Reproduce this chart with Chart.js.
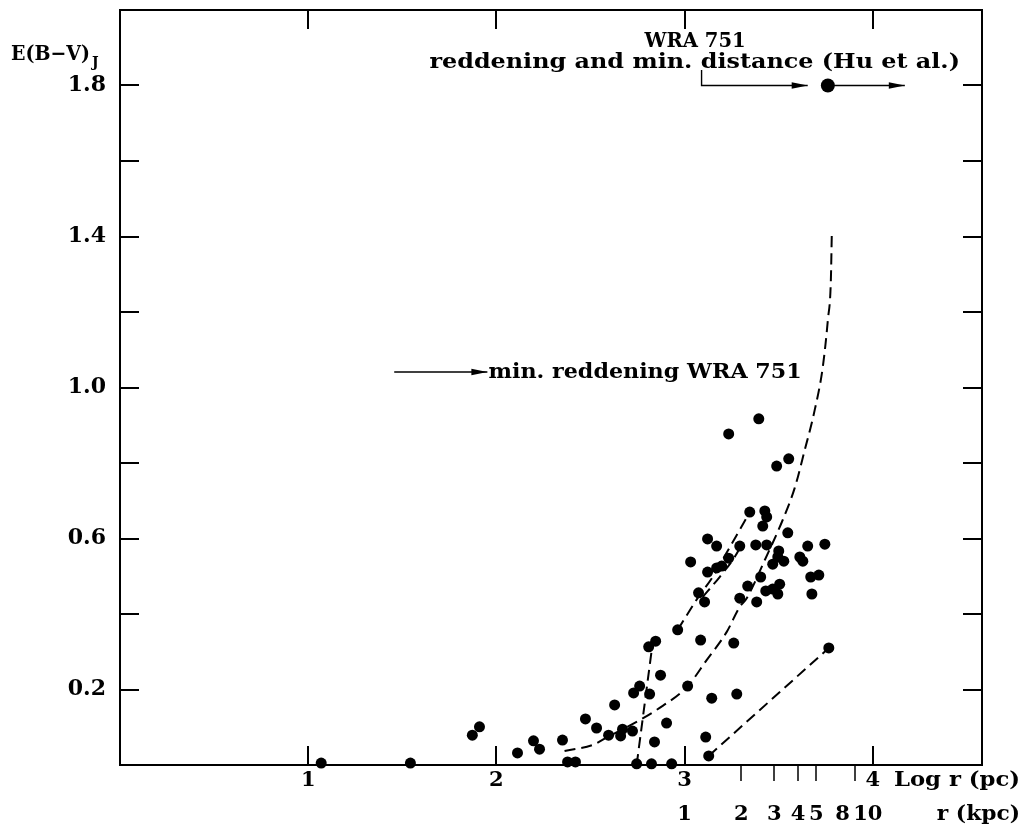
<!DOCTYPE html>
<html>
<head>
<meta charset="utf-8">
<title>E(B-V) vs log r</title>
<script src="https://cdn.jsdelivr.net/npm/chart.js@4.4.1/dist/chart.umd.min.js"></script>
<style>
  html, body { margin: 0; padding: 0; background: #fff; }
  #wrap { width: 1026px; height: 824px; }
</style>
</head>
<body>
<div id="wrap"><canvas id="chart" width="1026" height="824"></canvas></div>
<script>
/* ================= DATA ================= */
// field stars: log r (pc) and E(B-V)_J
const starLogR = [1.069, 1.543, 1.872, 1.910, 2.112, 2.197, 2.229, 2.351, 2.378, 2.420,
  2.473, 2.532, 2.596, 2.628, 2.660, 2.670, 2.723, 2.729, 2.761, 2.814,
  2.809, 2.846, 2.872, 2.904, 2.840, 2.745, 2.824, 2.931, 2.963, 3.016,
  3.074, 3.106, 3.085, 3.144, 3.112, 3.128, 3.261, 3.277, 3.293, 3.335,
  3.383, 3.404, 3.431, 3.468, 3.495, 3.505, 3.676, 3.766, 3.032, 3.122,
  3.170, 3.197, 3.234, 3.122, 3.170, 3.293, 3.346, 3.426, 3.436, 3.415,
  3.378, 3.436, 3.548, 3.500, 3.495, 3.527, 3.468, 3.654, 3.612, 3.628,
  3.745, 3.670, 3.713, 3.234, 3.394, 3.489, 3.553];
const starEbv = [0.005, 0.005, 0.079, 0.101, 0.032, 0.064, 0.042, 0.066, 0.008, 0.008,
  0.122, 0.098, 0.079, 0.159, 0.077, 0.095, 0.090, 0.191, 0.209, 0.188,
  0.313, 0.328, 0.238, 0.111, 0.061, 0.003, 0.003, 0.003, 0.358, 0.209,
  0.456, 0.432, 0.331, 0.177, 0.074, 0.024, 0.323, 0.188, 0.442, 0.474,
  0.432, 0.498, 0.461, 0.466, 0.453, 0.479, 0.453, 0.310, 0.538, 0.511,
  0.522, 0.527, 0.548, 0.599, 0.580, 0.580, 0.670, 0.673, 0.657, 0.633,
  0.583, 0.583, 0.615, 0.567, 0.551, 0.540, 0.532, 0.580, 0.551, 0.540,
  0.585, 0.498, 0.503, 0.877, 0.917, 0.792, 0.811];

// dashed reddening curves
const curveALogR = [2.362, 2.511, 2.590, 2.761, 2.851, 3.016, 3.117, 3.223, 3.293, 3.330,
  3.426, 3.521, 3.585, 3.638, 3.691, 3.734, 3.761, 3.777, 3.782];
const curveAEbv = [0.037, 0.053, 0.074, 0.119, 0.146, 0.209, 0.278, 0.352, 0.419, 0.442,
  0.543, 0.649, 0.734, 0.834, 0.940, 1.054, 1.179, 1.285, 1.409];
const curveBLogR = [2.745, 2.830];
const curveBEbv = [0.000, 0.323];
const curveCLogR = [2.963, 3.069, 3.149, 3.223, 3.293, 3.346];
const curveCEbv = [0.358, 0.442, 0.498, 0.562, 0.623, 0.670];
const curveDLogR = [3.096, 3.186, 3.266, 3.303];
const curveDEbv = [0.445, 0.498, 0.551, 0.583];
const curveELogR = [3.128, 3.766];
const curveEEbv = [0.024, 0.310];

// WRA 751 (Hu et al.) and arrows
const wraLogR = [3.761];
const wraEbv = [1.8];
const huArrowLogR = [3.090, 3.090, 3.654];
const huArrowEbv = [1.841, 1.8, 1.8];
const distArrowLogR = [3.761, 4.170];
const distArrowEbv = [1.8, 1.8];
const minArrowLogR = [1.457, 1.952];
const minArrowEbv = [1.041, 1.041];

// axes
const xTicks = [1, 2, 3, 4];
const yTicks = [0.2, 0.6, 1.0, 1.4, 1.8];
const yMinorTicks = [0.2, 0.4, 0.6, 0.8, 1.0, 1.2, 1.4, 1.6, 1.8];
const kpcLabels = [1, 2, 3, 4, 5, 8, 10];
const kpcTicks = [2, 3, 4, 5, 8];

/* ================= HELPERS ================= */
const FONT = '"DejaVu Serif", "Liberation Serif", serif';
const zip = (xs, ys) => xs.map((x, i) => ({ x, y: ys[i] }));
const setFont = (ctx, size) => { ctx.font = `bold ${size}px ${FONT}`; };

// draw text stretched horizontally between two x pixels
function spanText(ctx, txt, x0, x1, yb, size) {
  setFont(ctx, size);
  const w = ctx.measureText(txt).width;
  ctx.save();
  ctx.translate(x0, yb);
  ctx.scale((x1 - x0) / w, 1);
  ctx.textAlign = 'left';
  ctx.textBaseline = 'alphabetic';
  ctx.fillText(txt, 0, 0);
  ctx.restore();
}

function centerText(ctx, txt, x, yb, size) {
  setFont(ctx, size);
  ctx.textAlign = 'center';
  ctx.textBaseline = 'alphabetic';
  ctx.fillText(txt, x, yb);
}

function arrowHead(ctx, x0, y0, x1, y1) {
  const ang = Math.atan2(y1 - y0, x1 - x0);
  ctx.save();
  ctx.translate(x1, y1);
  ctx.rotate(ang);
  ctx.beginPath();
  ctx.moveTo(0, 0);
  ctx.lineTo(-16, -3.2);
  ctx.lineTo(-16, 3.2);
  ctx.closePath();
  ctx.fill();
  ctx.restore();
}

/* ================= DECORATION PLUGIN ================= */
const decor = {
  id: 'decor',
  afterDatasetsDraw(chart) {
    const ctx = chart.ctx;
    ctx.save();
    ctx.fillStyle = '#000';
    chart.data.datasets.forEach((ds, i) => {
      if (!ds.arrow) return;
      const pts = chart.getDatasetMeta(i).data;
      const a = pts[pts.length - 2], b = pts[pts.length - 1];
      arrowHead(ctx, a.x, a.y, b.x, b.y);
    });
    ctx.restore();
  },
  afterDraw(chart) {
    const { ctx, chartArea: a, scales: { x, y } } = chart;
    ctx.save();
    ctx.strokeStyle = '#000';
    ctx.fillStyle = '#000';

    // frame
    ctx.lineWidth = 2;
    ctx.strokeRect(a.left, a.top, a.right - a.left, a.bottom - a.top);

    // inner ticks
    ctx.beginPath();
    yMinorTicks.forEach(v => {
      const py = Math.round(y.getPixelForValue(v));
      ctx.moveTo(a.left, py); ctx.lineTo(a.left + 19, py);
      ctx.moveTo(a.right, py); ctx.lineTo(a.right - 19, py);
    });
    xTicks.forEach(v => {
      const px = Math.round(x.getPixelForValue(v));
      ctx.moveTo(px, a.top); ctx.lineTo(px, a.top + 19);
      ctx.moveTo(px, a.bottom); ctx.lineTo(px, a.bottom - 19);
    });
    ctx.stroke();

    // kpc ticks below axis
    ctx.lineWidth = 1.5;
    ctx.beginPath();
    kpcTicks.forEach(k => {
      const px = Math.round(x.getPixelForValue(Math.log10(k * 1000)));
      ctx.moveTo(px, a.bottom); ctx.lineTo(px, a.bottom + 16);
    });
    ctx.stroke();

    // x tick labels, row 1 (log r)
    const row1 = a.bottom + 21, row2 = a.bottom + 55;
    xTicks.forEach(v => centerText(ctx, String(v), x.getPixelForValue(v), row1, 21));
    spanText(ctx, 'Log r (pc)', x.getPixelForValue(4.112), x.getPixelForValue(4.782), row1, 21);

    // row 2 (r in kpc)
    kpcLabels.forEach(k => {
      let px = x.getPixelForValue(Math.log10(k * 1000));
      if (k === 8) px -= 12;
      if (k === 10) px -= 5;
      centerText(ctx, String(k), px, row2, 21);
    });
    spanText(ctx, 'r (kpc)', x.getPixelForValue(4.340), x.getPixelForValue(4.782), row2, 21);

    // y axis title
    spanText(ctx, 'E(B\u2212V)', 11, 90, 60, 20);
    setFont(ctx, 14);
    ctx.textAlign = 'left';
    ctx.fillText('J', 92, 67);

    // annotations
    spanText(ctx, 'WRA 751', x.getPixelForValue(2.787), x.getPixelForValue(3.324), y.getPixelForValue(1.902), 20);
    spanText(ctx, 'reddening and min. distance (Hu et al.)',
      x.getPixelForValue(1.644), x.getPixelForValue(4.463), y.getPixelForValue(1.846), 20);
    spanText(ctx, 'min. reddening WRA 751',
      x.getPixelForValue(1.958), x.getPixelForValue(3.622), y.getPixelForValue(1.025), 21);

    ctx.restore();
  }
};

/* ================= CHART ================= */
const dashed = (xs, ys, smooth) => ({
  data: zip(xs, ys),
  showLine: true,
  borderColor: '#000',
  borderWidth: 2,
  borderDash: [11, 6],
  pointRadius: 0,
  cubicInterpolationMode: smooth ? 'monotone' : 'default',
  clip: false
});

const arrowLine = (xs, ys) => ({
  data: zip(xs, ys),
  showLine: true,
  borderColor: '#000',
  borderWidth: 1.4,
  pointRadius: 0,
  arrow: true,
  clip: false
});

new Chart(document.getElementById('chart'), {
  type: 'scatter',
  data: {
    datasets: [
      { data: zip(starLogR, starEbv), pointRadius: 5.5, pointBackgroundColor: '#000', pointBorderWidth: 0, clip: false },
      { data: zip(wraLogR, wraEbv), pointRadius: 7, pointBackgroundColor: '#000', pointBorderWidth: 0, clip: false },
      dashed(curveALogR, curveAEbv, true),
      dashed(curveBLogR, curveBEbv, false),
      dashed(curveCLogR, curveCEbv, true),
      dashed(curveDLogR, curveDEbv, true),
      dashed(curveELogR, curveEEbv, false),
      arrowLine(huArrowLogR, huArrowEbv),
      arrowLine(distArrowLogR, distArrowEbv),
      arrowLine(minArrowLogR, minArrowEbv)
    ]
  },
  options: {
    responsive: false,
    animation: false,
    layout: { padding: { left: 0, top: 10, right: 44, bottom: 0 } },
    plugins: { legend: { display: false }, tooltip: { enabled: false } },
    scales: {
      x: {
        type: 'linear', min: 0, max: 4.58,
        grid: { display: false }, border: { display: false },
        ticks: { display: false },
        afterFit(s) { s.height = 59; s.paddingLeft = 0; s.paddingRight = 0; }
      },
      y: {
        type: 'linear', min: 0, max: 2,
        grid: { display: false }, border: { display: false },
        afterBuildTicks(s) { s.ticks = yTicks.map(v => ({ value: v })); },
        ticks: {
          color: '#000', padding: 6,
          font: { family: FONT, size: 22, weight: 'bold' },
          callback: v => v.toFixed(1)
        },
        afterFit(s) { s.width = 120; s.paddingTop = 0; s.paddingBottom = 0; }
      }
    }
  },
  plugins: [decor]
});
</script>
</body>
</html>
